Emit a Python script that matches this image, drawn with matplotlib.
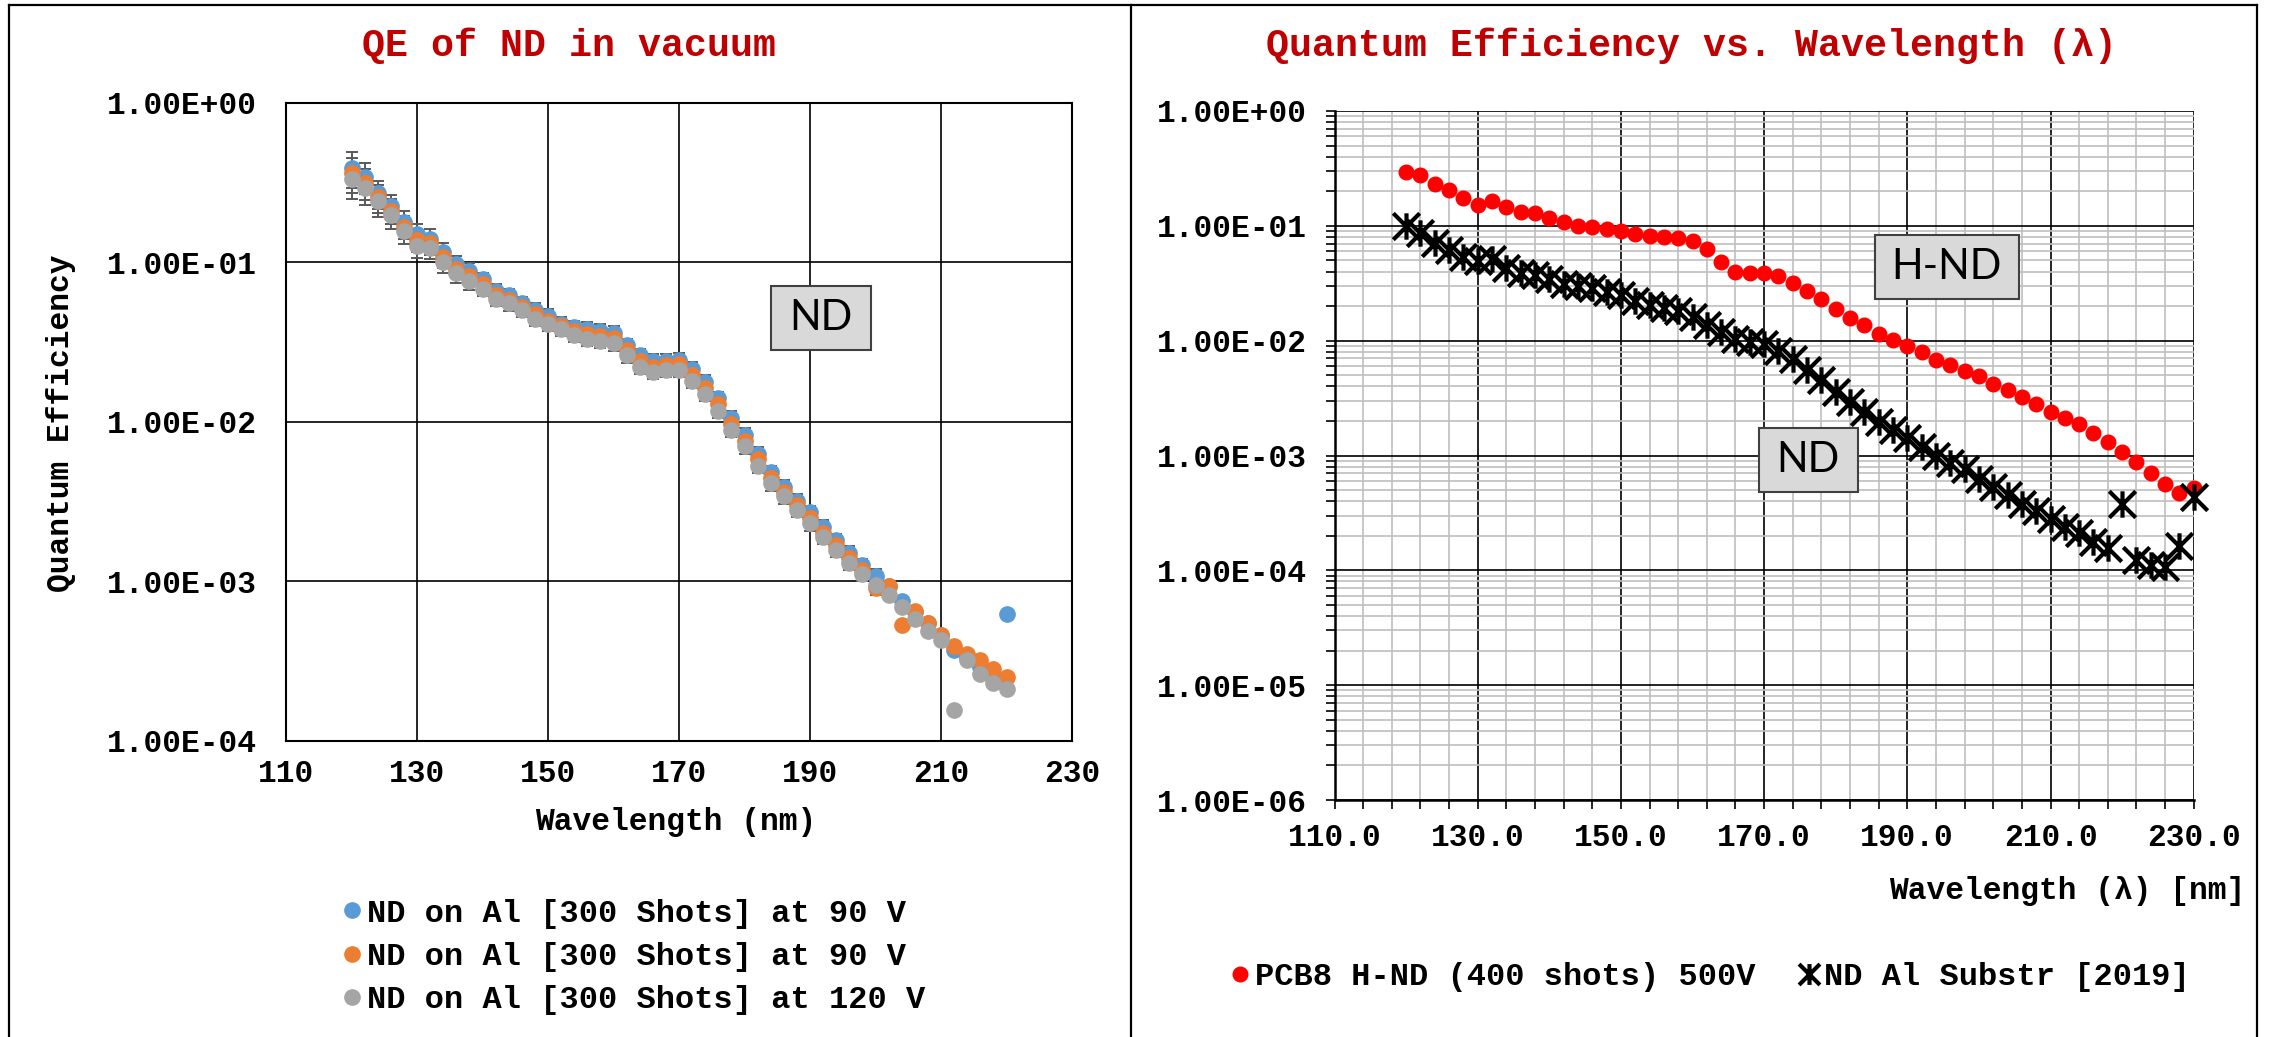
import matplotlib
matplotlib.use("Agg")
import matplotlib.pyplot as plt
from matplotlib.lines import Line2D
from matplotlib.patches import Rectangle
from matplotlib.path import Path
from matplotlib.ticker import FuncFormatter, LogLocator, MultipleLocator, NullLocator

# ---- data: left panel (QE of ND in vacuum) ----
wl_left = [120, 122, 124, 126, 128, 130, 132, 134, 136, 138, 140, 142, 144, 146, 148, 150,
           152, 154, 156, 158, 160, 162, 164, 166, 168, 170, 172, 174, 176, 178, 180, 182,
           184, 186, 188, 190, 192, 194, 196, 198, 200, 202, 204, 206, 208, 210, 212, 214,
           216, 218, 220]
qe_90v_a = [0.39, 0.34, 0.27, 0.224, 0.178, 0.149, 0.14, 0.115, 0.097, 0.088, 0.078, 0.066,
            0.062, 0.055, 0.05, 0.046, 0.041, 0.039, 0.038, 0.037, 0.036, 0.030, 0.026, 0.024,
            0.024, 0.0245, 0.0215, 0.0177, 0.014, 0.0106, 0.0083, 0.0063, 0.0048, 0.0039,
            0.0032, 0.0027, 0.0022, 0.0018, 0.00151, 0.00126, 0.00108, 0.00093, 0.00075,
            0.00064, 0.00055, 0.00046, 0.00037, 0.00033, 0.00029, 0.00025, 0.00062]
qe_90v_b = [0.36, 0.315, 0.255, 0.21, 0.167, 0.137, 0.131, 0.107, 0.091, 0.082, 0.073, 0.062,
            0.058, 0.052, 0.047, 0.043, 0.0395, 0.037, 0.0355, 0.0345, 0.0335, 0.028, 0.024,
            0.022, 0.0225, 0.0228, 0.0197, 0.0163, 0.0128, 0.0097, 0.0076, 0.0058, 0.0044,
            0.0036, 0.003, 0.0025, 0.002, 0.00168, 0.0014, 0.00118, 0.00091, 0.00093, 0.00053,
            0.00065, 0.00055, 0.00046, 0.00039, 0.00035, 0.00032, 0.00028, 0.00025]
qe_120v = [0.33, 0.29, 0.24, 0.197, 0.156, 0.126, 0.123, 0.1, 0.085, 0.076, 0.068, 0.059,
           0.055, 0.05, 0.044, 0.041, 0.038, 0.035, 0.033, 0.032, 0.031, 0.026, 0.022, 0.0205,
           0.021, 0.021, 0.018, 0.015, 0.0117, 0.0089, 0.0070, 0.0053, 0.0041, 0.0034, 0.0028,
           0.0023, 0.0019, 0.00157, 0.0013, 0.00111, 0.00094, 0.00082, 0.00069, 0.00058,
           0.00049, 0.00043, 0.000156, 0.00032, 0.00026, 0.00023, 0.00021]
err_frac = [0.25, 0.22, 0.2, 0.18, 0.17, 0.16, 0.15, 0.14, 0.13, 0.12,
            0.1, 0.1, 0.1, 0.1, 0.1, 0.1, 0.1, 0.1, 0.1, 0.1, 0.1, 0.1, 0.1, 0.1, 0.1, 0.1,
            0.1, 0.1, 0.1, 0.1, 0.1, 0.1, 0.1, 0.1, 0.1, 0.1, 0.1, 0.1, 0.1, 0.1, 0.1,
            0, 0, 0, 0, 0, 0, 0, 0, 0, 0]
left_labels = ["ND on Al [300 Shots] at 90 V", "ND on Al [300 Shots] at 90 V",
               "ND on Al [300 Shots] at 120 V"]
left_colors = ["#5B9BD5", "#ED7D31", "#A5A5A5"]

# ---- data: right panel (QE vs wavelength) ----
wl_right = [120, 122, 124, 126, 128, 130, 132, 134, 136, 138, 140, 142, 144, 146, 148, 150,
            152, 154, 156, 158, 160, 162, 164, 166, 168, 170, 172, 174, 176, 178, 180, 182,
            184, 186, 188, 190, 192, 194, 196, 198, 200, 202, 204, 206, 208, 210, 212, 214,
            216, 218, 220, 222, 224, 226, 228, 230]
qe_hnd = [0.295, 0.277, 0.23, 0.204, 0.176, 0.152, 0.165, 0.145, 0.133, 0.13, 0.117, 0.108,
          0.1, 0.098, 0.093, 0.09, 0.085, 0.082, 0.08, 0.079, 0.074, 0.0626, 0.048, 0.040,
          0.0386, 0.0386, 0.0366, 0.0319, 0.0272, 0.0229, 0.0187, 0.0156, 0.0136, 0.0115,
          0.0102, 0.0089, 0.0079, 0.0068, 0.0061, 0.0054, 0.0049, 0.0042, 0.0037, 0.0032,
          0.0028, 0.0024, 0.0021, 0.00187, 0.00157, 0.00132, 0.00107, 0.00088, 0.0007,
          0.00056, 0.00047, 0.00052]
qe_nd2019 = [0.1, 0.087, 0.071, 0.062, 0.053, 0.049, 0.051, 0.043, 0.039, 0.037, 0.0345,
             0.031, 0.030, 0.0286, 0.0265, 0.0248, 0.0223, 0.0206, 0.0192, 0.0183, 0.016,
             0.0136, 0.0118, 0.0103, 0.0098, 0.0094, 0.0082, 0.0069, 0.0055, 0.0045, 0.0036,
             0.0029, 0.0024, 0.00197, 0.00168, 0.00141, 0.00119, 0.00099, 0.00086, 0.00076,
             0.00062, 0.00053, 0.00045, 0.00038, 0.00033, 0.00028, 0.00024, 0.00021, 0.000176,
             0.000155, 0.00038, 0.000122, 0.000111, 0.000107, 0.000163, 0.000435]
right_labels = ["PCB8 H-ND (400 shots) 500V", "ND Al Substr [2019]"]

W, H = 2269, 1037
def fx(x):
    return x / W
def fy(y):
    return 1 - y / H

mono = "Liberation Mono"
red_title = "#C00000"
sci = FuncFormatter(lambda v, p: f"{v:.2E}")

fig = plt.figure(figsize=(W / 100, H / 100), dpi=100)

# panel frames
for xs, ys in [((9, 2257), (5, 5)), ((9, 9), (5, H)), ((1131, 1131), (5, H)), ((2257, 2257), (5, H))]:
    fig.add_artist(Line2D([fx(xs[0]), fx(xs[1])], [fy(ys[0]), fy(ys[1])], color="black", lw=1.6))

# ---------------- left panel ----------------
axL = fig.add_axes([fx(286), fy(740.7), (1072 - 286) / W, (740.7 - 102.5) / H])
axL.set_yscale("log")
axL.set_xlim(110, 230)
axL.set_ylim(1e-4, 1)
axL.xaxis.set_major_locator(MultipleLocator(20, offset=10))
axL.yaxis.set_major_locator(LogLocator(base=10, numticks=10))
axL.yaxis.set_minor_locator(NullLocator())
axL.yaxis.set_major_formatter(sci)
axL.grid(True, which="major", color="black", lw=1.2)
axL.set_axisbelow(True)
for s in axL.spines.values():
    s.set_linewidth(1.5)
axL.tick_params(length=0, labelsize=22.5)
axL.tick_params(axis="y", pad=21)
axL.tick_params(axis="x", pad=13)
for lab in axL.get_xticklabels() + axL.get_yticklabels():
    lab.set_family(mono)
    lab.set_weight("bold")

for ys, c in zip([qe_90v_a, qe_90v_b, qe_120v], left_colors):
    err = [v * e for v, e in zip(ys, err_frac)]
    axL.errorbar(wl_left, ys, yerr=[err, err], fmt="o", color=c, ms=11, mec=c,
                 ecolor="#595959", elinewidth=1.4, capsize=4.3, capthick=1.4, clip_on=False)

axL.add_patch(Rectangle((0.617, 0.6116), 0.127, 0.101, transform=axL.transAxes,
                        facecolor="#D9D9D9", edgecolor="#404040", lw=1.5, zorder=5))
axL.text(0.6805, 0.662, "ND", transform=axL.transAxes, ha="center", va="center",
         family="Lato", size=30, zorder=6)

fig.text(fx(569), fy(46), "QE of ND in vacuum", ha="center", va="center", family=mono,
         weight="bold", size=27.5, color=red_title)
fig.text(fx(61), fy(423), "Quantum Efficiency", ha="center", va="center", rotation=90,
         family=mono, weight="bold", size=22.5)
fig.text(fx(676), fy(822), "Wavelength (nm)", ha="center", va="center", family=mono,
         weight="bold", size=22.5)

handlesL = [Line2D([], [], ls="", marker="o", color=c, ms=11) for c in left_colors]
fig.legend(handlesL, left_labels, loc="center", bbox_to_anchor=(fx(634), fy(957)),
           frameon=False, prop=dict(family=mono, weight="bold", size=23),
           handlelength=0.6, handletextpad=0.15, labelspacing=0.42, borderaxespad=0)

# ---------------- right panel ----------------
axR = fig.add_axes([fx(1334.5), fy(800), (2193.7 - 1334.5) / W, (800 - 111) / H])
axR.set_yscale("log")
axR.set_xlim(110, 230)
axR.set_ylim(1e-6, 1)
axR.xaxis.set_major_locator(MultipleLocator(20, offset=10))
axR.xaxis.set_minor_locator(MultipleLocator(4, offset=2))
axR.xaxis.set_major_formatter(FuncFormatter(lambda v, p: f"{v:.1f}"))
axR.yaxis.set_major_locator(LogLocator(base=10, numticks=10))
axR.yaxis.set_minor_locator(LogLocator(base=10, subs=range(2, 10), numticks=20))
axR.yaxis.set_major_formatter(sci)
axR.grid(True, which="minor", color="#BFBFBF", lw=1.2)
axR.grid(True, which="major", color="black", lw=1.2)
axR.set_axisbelow(True)
for side in ["top", "right"]:
    axR.spines[side].set_visible(False)
for side in ["left", "bottom"]:
    axR.spines[side].set_linewidth(1.8)
axR.tick_params(which="both", direction="out", length=6.5, width=1.2)
axR.tick_params(which="major", labelsize=22.5)
axR.tick_params(axis="y", pad=13)
axR.tick_params(axis="x", pad=10)
for lab in axR.get_xticklabels() + axR.get_yticklabels():
    lab.set_family(mono)
    lab.set_weight("bold")

star = Path([(0, -1), (0, 1), (-1, -1), (1, 1), (-1, 1), (1, -1)],
            [Path.MOVETO, Path.LINETO, Path.MOVETO, Path.LINETO, Path.MOVETO, Path.LINETO])

axR.plot(wl_right, qe_hnd, ls="", marker="o", color="#FF0000", ms=10.5, clip_on=False, zorder=3)
axR.plot(wl_right, qe_nd2019, ls="", marker=star, color="black", mec="black", ms=19,
         mew=3.0, clip_on=False, zorder=4)

axR.add_patch(Rectangle((0.6285, 0.7271), 0.1676, 0.0929, transform=axR.transAxes,
                        facecolor="#D9D9D9", edgecolor="#404040", lw=1.5, zorder=5))
axR.text(0.7123, 0.7735, "H-ND", transform=axR.transAxes, ha="center", va="center",
         family="Lato", size=30, zorder=6)
axR.add_patch(Rectangle((0.4937, 0.447), 0.1156, 0.093, transform=axR.transAxes,
                        facecolor="#D9D9D9", edgecolor="#404040", lw=1.5, zorder=5))
axR.text(0.5515, 0.4935, "ND", transform=axR.transAxes, ha="center", va="center",
         family="Lato", size=30, zorder=6)

fig.text(fx(1691), fy(46), "Quantum Efficiency vs. Wavelength (\u03bb)", ha="center",
         va="center", family=mono, weight="bold", size=27.5, color=red_title)
fig.text(fx(2245), fy(891), "Wavelength (\u03bb) [nm]", ha="right", va="center",
         family=mono, weight="bold", size=22.5)

handlesR = [Line2D([], [], ls="", marker="o", color="#FF0000", ms=10.5),
            Line2D([], [], ls="", marker=star, color="black", ms=15, mew=3.0)]
fig.legend(handlesR, right_labels, loc="center", bbox_to_anchor=(fx(1710), fy(977)),
           ncol=2, frameon=False, prop=dict(family=mono, weight="bold", size=23),
           handlelength=0.6, handletextpad=0.15, columnspacing=1.4, borderaxespad=0)

fig.savefig("out.png", dpi=100)
